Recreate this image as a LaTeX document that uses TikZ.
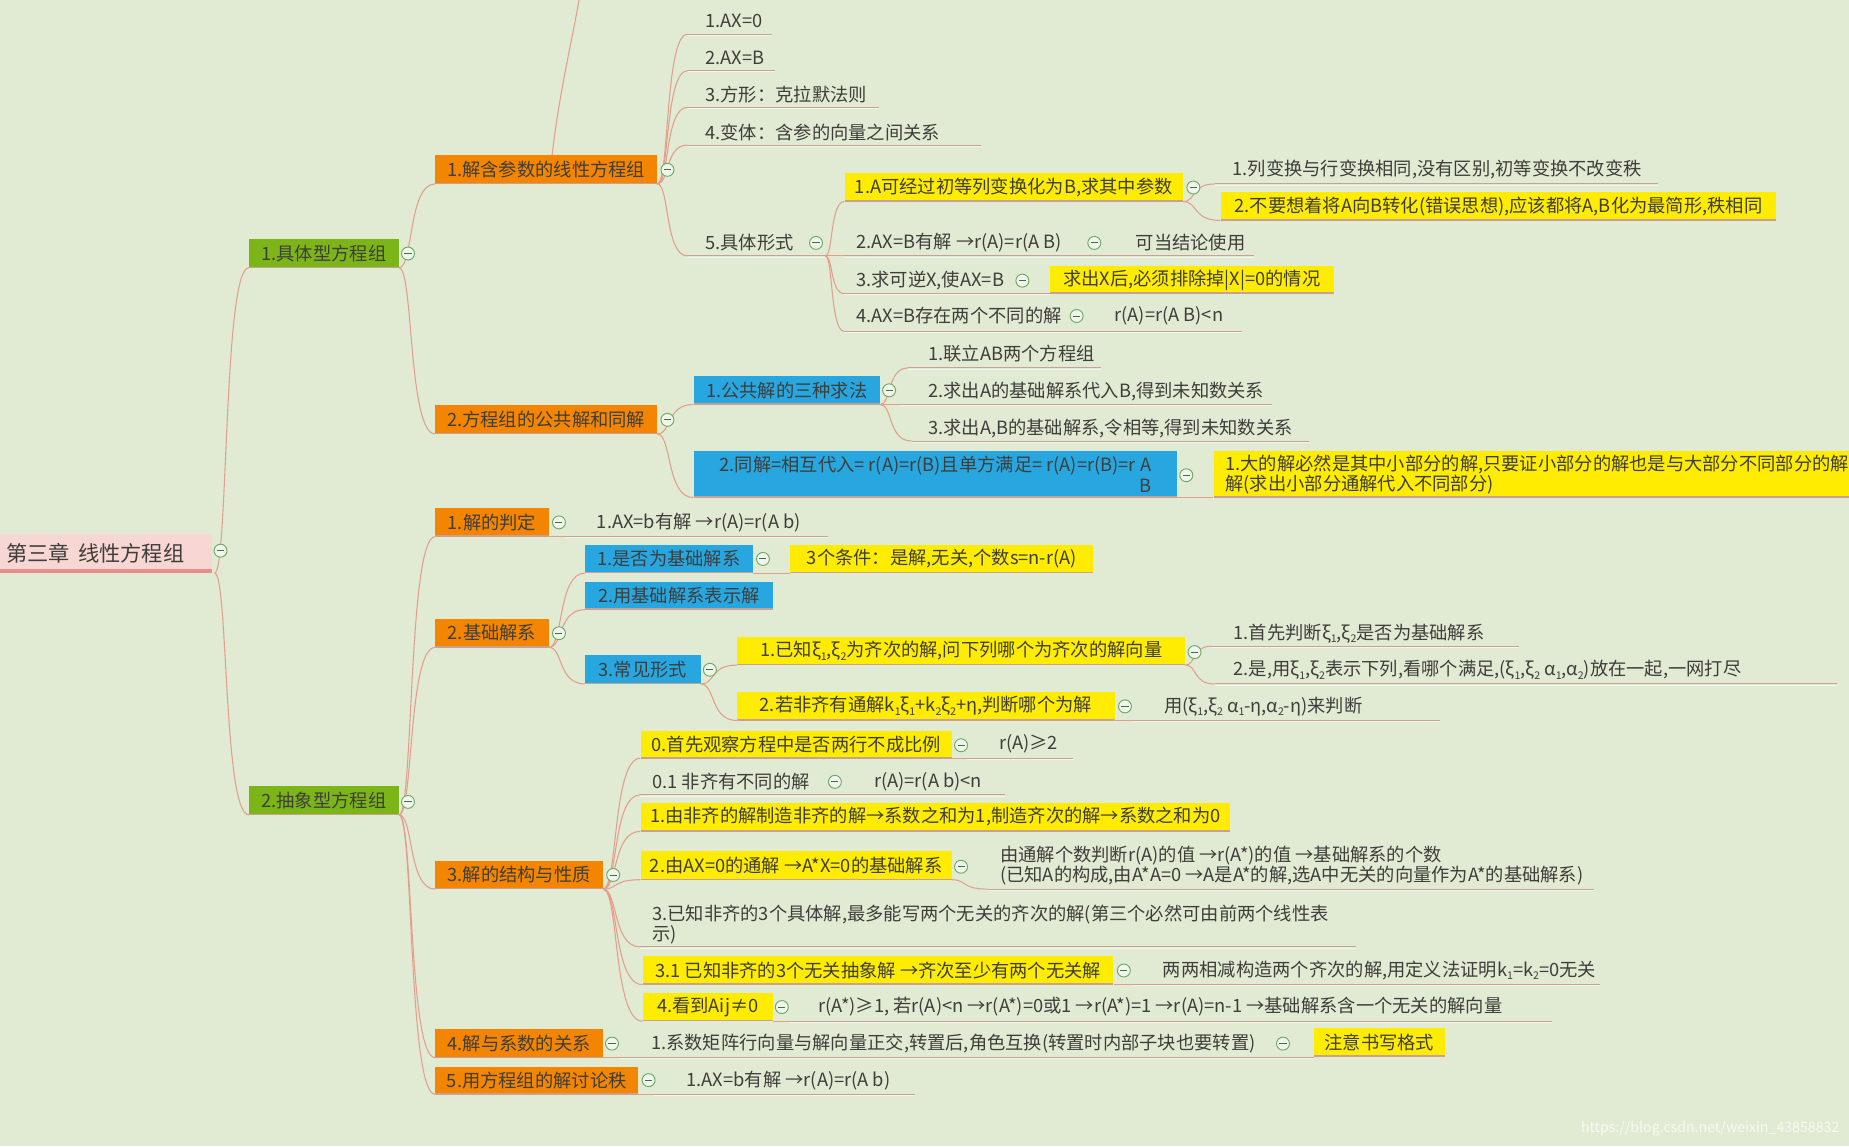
\documentclass[tikz,border=0pt]{standalone}
\usepackage{fontspec}
\setmainfont{Noto Sans CJK SC}
\usetikzlibrary{calc}
\definecolor{bgc}{RGB}{225,234,211}
\definecolor{txt}{RGB}{62,62,58}
\definecolor{grn}{RGB}{124,181,24}
\definecolor{org}{RGB}{243,133,0}
\definecolor{blu}{RGB}{40,166,224}
\definecolor{yel}{RGB}{255,236,0}
\definecolor{pinkb}{RGB}{247,214,212}
\definecolor{pinkl}{RGB}{232,140,140}
\definecolor{connc}{RGB}{226,160,140}
\definecolor{ulc}{RGB}{200,160,148}
\definecolor{cirb}{RGB}{110,170,100}
\definecolor{cirf}{RGB}{240,246,236}
\definecolor{cirm}{RGB}{70,110,70}
\newcommand\fz{\fontsize{15.5}{17.5}\selectfont}
\newcommand\sbs[1]{\raisebox{-0.35ex}{\fontsize{9}{9}\selectfont #1}}
\newcommand\conn[2]{\draw[cline] let \p1=(#1), \p2=(#2) in (\p1) .. controls ({\x1+0.4*(\x2-\x1)},{\y1}) and ({\x1+0.25*(\x2-\x1)},{\y2}) .. (\p2);}
\newcommand\ulline[4]{\coordinate (#1s) at (#2,#4); \coordinate (#1e) at (#3,#4);
  \draw[ulw] ([yshift=-1pt]#1s) -- ([yshift=-1pt]#1e); \draw[ul] (#1s) -- (#1e);}
\newcommand\cbt[3]{\node[cbtn] (#1) at (#2,#3) {};}
\tikzset{
  cline/.style={connc, line width=0.9pt},
  ul/.style={ulc, line width=0.9pt},
  ulw/.style={white, opacity=0.6, line width=0.8pt},
  tx/.style={anchor=west, inner sep=0pt, align=left},
  boxb/.style={anchor=south west, inner xsep=6pt, inner ysep=0pt, minimum height=24pt, align=center,
    path picture={\draw[ulc, line width=1.6pt] (path picture bounding box.south west) -- (path picture bounding box.south east);}},
  gbox/.style={boxb, fill=grn},
  obox/.style={boxb, fill=org},
  bbox/.style={boxb, fill=blu},
  ybox/.style={boxb, fill=yel},
  cbtn/.style={circle, draw=cirb, fill=cirf, line width=0.8pt, minimum size=11pt, inner sep=0pt,
    path picture={\draw[cirm, line width=0.8pt] ([xshift=-3pt]path picture bounding box.center) -- ([xshift=3pt]path picture bounding box.center);}},
}
\begin{document}
\begin{tikzpicture}[x=1pt,y=-1pt, every node/.style={font=\fz, text=txt}]
\fill[bgc] (0,0) rectangle (1568,972);
\useasboundingbox (0,0) rectangle (1568,972);

% ---------- root ----------
\node[anchor=south west, fill=pinkb, text width=170pt, inner xsep=5pt, inner ysep=0pt, minimum height=33pt, align=left,
  font=\fontsize{18}{20}\selectfont,
  path picture={\draw[pinkl, line width=6pt] (path picture bounding box.south west) -- (path picture bounding box.south east);}]
  (root) at (0,486) {第三章\hspace{0.4em}线性方程组};

% ---------- level 1 ----------
\node[gbox, minimum width=127pt] (G1) at (211,227) {1.具体型方程组};
\node[gbox, minimum width=127pt] (G2) at (211,691) {2.抽象型方程组};

% ---------- level 2 ----------
\node[obox, minimum width=188pt] (O1) at (369,156) {1.解含参数的线性方程组};
\node[obox, minimum width=188pt] (O2) at (369,368) {2.方程组的公共解和同解};
\node[obox, minimum width=96pt] (O3) at (369,455) {1.解的判定};
\node[obox, minimum width=96pt] (O4) at (369,549) {2.基础解系};
\node[obox, minimum width=142pt] (O5) at (369,754) {3.解的结构与性质};
\node[obox, minimum width=142pt] (O6) at (369,897) {4.解与系数的关系};
\node[obox, minimum width=172pt, minimum height=23pt] (O7) at (369,928) {5.用方程组的解讨论秩};

% ---------- blue ----------
\node[bbox, minimum width=158pt] (B1) at (588,343) {1.公共解的三种求法};
\node[bbox, minimum width=410pt, minimum height=39pt, align=right, inner xsep=10pt] (B2) at (588,422)
  {2.同解=相互代入= r(A)=r(B)且单方满足= r(A)=r(B)=r A\\B};
\node[bbox, minimum width=142pt] (B3) at (496,486) {1.是否为基础解系};
\node[bbox, minimum width=159pt, minimum height=23pt] (B4) at (496,517) {2.用基础解系表示解};
\node[bbox, minimum width=98pt] (B5) at (496,580) {3.常见形式};

% ---------- yellow ----------
\node[ybox, minimum width=287pt] (Y1) at (716,171) {1.A可经过初等列变换化为B,求其中参数};
\node[ybox, minimum width=471pt] (Y1b) at (1035,187) {2.不要想着将A向B转化(错误思想),应该都将A,B化为最简形,秩相同};
\node[ybox, minimum width=241pt, minimum height=23pt] (Yx) at (890,249) {求出X后,必须排除掉|X|=0的情况};
\node[ybox, minimum height=39pt, text width=540pt, align=left, inner xsep=10pt] (Y2) at (1029,422)
  {1.大的解必然是其中小部分的解,只要证小部分的解也是与大部分不同部分的解\\解(求出小部分通解代入不同部分)};
\node[ybox, minimum width=257pt] (Yc) at (670,486) {3个条件：是解,无关,个数s=n-r(A)};
\node[ybox, minimum width=380pt] (Y3) at (625,564) {1.已知ξ\sbs1,ξ\sbs2为齐次的解,问下列哪个为齐次的解向量};
\node[ybox, minimum width=320pt] (Y4) at (625,611) {2.若非齐有通解k\sbs1ξ\sbs1+k\sbs2ξ\sbs2+η,判断哪个为解};
\node[ybox, minimum width=264pt, minimum height=23pt] (Y5) at (543,643) {0.首先观察方程中是否两行不成比例};
\node[ybox, minimum width=500pt] (Y6) at (543,705) {1.由非齐的解制造非齐的解→系数之和为1,制造齐次的解→系数之和为0};
\node[ybox, minimum width=264pt] (Y7) at (543,746) {2.由AX=0的通解 →A*X=0的基础解系};
\node[ybox, minimum width=399pt] (Y8) at (545,835) {3.1 已知非齐的3个无关抽象解 →齐次至少有两个无关解};
\node[ybox, minimum width=110pt] (Y9) at (545,866) {4.看到Aij≠0};
\node[ybox, minimum width=111pt] (Y10) at (1114,896) {注意书写格式};

% ---------- text items ----------
\node[tx] (a1) at (598,18) {1.AX=0};
\node[tx] (a2) at (598,49) {2.AX=B};
\node[tx] (a3) at (598,80) {3.方形：克拉默法则};
\node[tx] (a4) at (598,112) {4.变体：含参的向量之间关系};
\node[tx] (a5) at (598,206) {5.具体形式};
\node[tx] (b1) at (1045,144) {1.列变换与行变换相同,没有区别,初等变换不改变秩};
\node[tx] (b2) at (726,206) {2.AX=B有解 →r(A)=r(A B)};
\node[tx] (b2b) at (963,206) {可当结论使用};
\node[tx] (b3) at (726,238) {3.求可逆X,使AX=B};
\node[tx] (b4) at (726,268) {4.AX=B存在两个不同的解};
\node[tx] (b4b) at (945,268) {r(A)=r(A B)<n};
\node[tx] (c1) at (787,300) {1.联立AB两个方程组};
\node[tx] (c2) at (787,332) {2.求出A的基础解系代入B,得到未知数关系};
\node[tx] (c3) at (787,363) {3.求出A,B的基础解系,令相等,得到未知数关系};
\node[tx] (d1) at (506,443) {1.AX=b有解 →r(A)=r(A b)};
\node[tx] (e1) at (1046,537) {1.首先判断ξ\sbs1,ξ\sbs2是否为基础解系};
\node[tx] (e2) at (1046,568) {2.是,用ξ\sbs1,ξ\sbs2表示下列,看哪个满足,(ξ\sbs1,ξ\sbs2\ α\sbs1,α\sbs2)放在一起,一网打尽};
\node[tx] (e3) at (987,599) {用(ξ\sbs1,ξ\sbs2\ α\sbs1-η,α\sbs2-η)来判断};
\node[tx] (f0) at (847,631) {r(A)≥2};
\node[tx] (f1) at (553,663) {0.1 非齐有不同的解};
\node[tx] (f1b) at (741,663) {r(A)=r(A b)<n};
\node[tx] (f2) at (848,734) {由通解个数判断r(A)的值 →r(A*)的值 →基础解系的个数\\(已知A的构成,由A*A=0 →A是A*的解,选A中无关的向量作为A*的基础解系)};
\node[tx] (f3) at (553,784) {3.已知非齐的3个具体解,最多能写两个无关的齐次的解(第三个必然可由前两个线性表\\示)};
\node[tx] (f4) at (986,823) {两两相减构造两个齐次的解,用定义法证明k\sbs1=k\sbs2=0无关};
\node[tx] (f5) at (694,854) {r(A*)≥1, 若r(A)<n →r(A*)=0或1 →r(A*)=1 →r(A)=n-1 →基础解系含一个无关的解向量};
\node[tx] (g1) at (552,885) {1.系数矩阵行向量与解向量正交,转置后,角色互换(转置时内部子块也要转置)};
\node[tx] (h1) at (582,916) {1.AX=b有解 →r(A)=r(A b)};

% ---------- underlines ----------
\ulline{a1}{583}{655}{29}
\ulline{a2}{583}{657}{60}
\ulline{a3}{583}{745}{91}
\ulline{a4}{583}{832}{123}
\ulline{a5}{583}{700}{217}
\ulline{b1}{1030}{1406}{156}
\ulline{b2}{716}{1063}{217}
\ulline{b3}{716}{890}{249}
\ulline{b4}{716}{1053}{281}
\ulline{c1}{770}{934}{312}
\ulline{c2}{762}{1079}{343}
\ulline{c3}{773}{1110}{374}
\ulline{d1}{480}{702}{455}
\ulline{e1}{1027}{1288}{548}
\ulline{e2}{1030}{1558}{580}
\ulline{e3}{960}{1221}{611}
\ulline{f0}{820}{910}{643}
\ulline{f1}{543}{852}{674}
\ulline{f2}{838}{1352}{754}
\ulline{f3}{543}{1150}{803}
\ulline{f4}{960}{1357}{835}
\ulline{f5}{670}{1316}{866}
\ulline{g1}{525}{1114}{897}
\ulline{h1}{555}{776}{928}

% ---------- connectors ----------
\coordinate (rootc) at (182,486);
\conn{rootc}{G1.south west}
\conn{rootc}{G2.south west}
\conn{G1.south east}{O1.south west}
\conn{G1.south east}{O2.south west}
\conn{O1.south east}{a1s}
\conn{O1.south east}{a2s}
\conn{O1.south east}{a3s}
\conn{O1.south east}{a4s}
\conn{O1.south east}{a5s}
\conn{a5e}{Y1.south west}
\conn{a5e}{b2s}
\conn{a5e}{b3s}
\conn{a5e}{b4s}
\conn{Y1.south east}{b1s}
\conn{Y1.south east}{Y1b.south west}
\conn{O2.south east}{B1.south west}
\conn{O2.south east}{B2.south west}
\conn{B1.south east}{c1s}
\conn{B1.south east}{c2s}
\conn{B1.south east}{c3s}
\conn{B2.south east}{Y2.south west}
\conn{G2.south east}{O3.south west}
\conn{G2.south east}{O4.south west}
\conn{G2.south east}{O5.south west}
\conn{G2.south east}{O6.south west}
\conn{G2.south east}{O7.south west}
\conn{O3.south east}{d1s}
\conn{O4.south east}{B3.south west}
\conn{O4.south east}{B4.south west}
\conn{O4.south east}{B5.south west}
\conn{B3.south east}{Yc.south west}
\conn{B5.south east}{Y3.south west}
\conn{B5.south east}{Y4.south west}
\conn{Y3.south east}{e1s}
\conn{Y3.south east}{e2s}
\conn{Y4.south east}{e3s}
\conn{O5.south east}{Y5.south west}
\conn{O5.south east}{f1s}
\conn{O5.south east}{Y6.south west}
\conn{O5.south east}{Y7.south west}
\conn{O5.south east}{f3s}
\conn{O5.south east}{Y8.south west}
\conn{O5.south east}{Y9.south west}
\conn{Y5.south east}{f0s}
\conn{Y7.south east}{f2s}
\conn{Y8.south east}{f4s}
\conn{Y9.south east}{f5s}
\conn{O6.south east}{g1s}
\conn{O7.south east}{h1s}
\coordinate (topend) at (491,0);
\draw[cline] ([xshift=5pt]O1.north) .. controls (474,80) and (486,30) .. (topend);

% ---------- collapse buttons ----------
\cbt{k0}{187}{467}
\cbt{k1}{346}{215}
\cbt{k2}{346}{680}
\cbt{k3}{566}{144}
\cbt{k4}{566}{356}
\cbt{k5}{692}{206}
\cbt{k6}{1012}{159}
\cbt{k7}{928}{206}
\cbt{k8}{867}{238}
\cbt{k9}{913}{268}
\cbt{k10}{754}{331}
\cbt{k11}{1006}{403}
\cbt{k12}{474}{443}
\cbt{k13}{474}{537}
\cbt{k14}{647}{474}
\cbt{k15}{602}{568}
\cbt{k16}{1013}{553}
\cbt{k17}{954}{599}
\cbt{k18}{520}{742}
\cbt{k19}{815}{632}
\cbt{k20}{708}{663}
\cbt{k21}{815}{735}
\cbt{k22}{953}{823}
\cbt{k23}{663}{854}
\cbt{k24}{519}{885}
\cbt{k25}{1088}{885}
\cbt{k26}{550}{916}

% ---------- watermark ----------
\node[anchor=east, inner sep=0pt, font=\fontsize{12}{12}\selectfont, text=white, opacity=0.75] (wm) at (1560,957)
  {https://blog.csdn.net/weixin\_43858832};
\end{tikzpicture}
\end{document}
